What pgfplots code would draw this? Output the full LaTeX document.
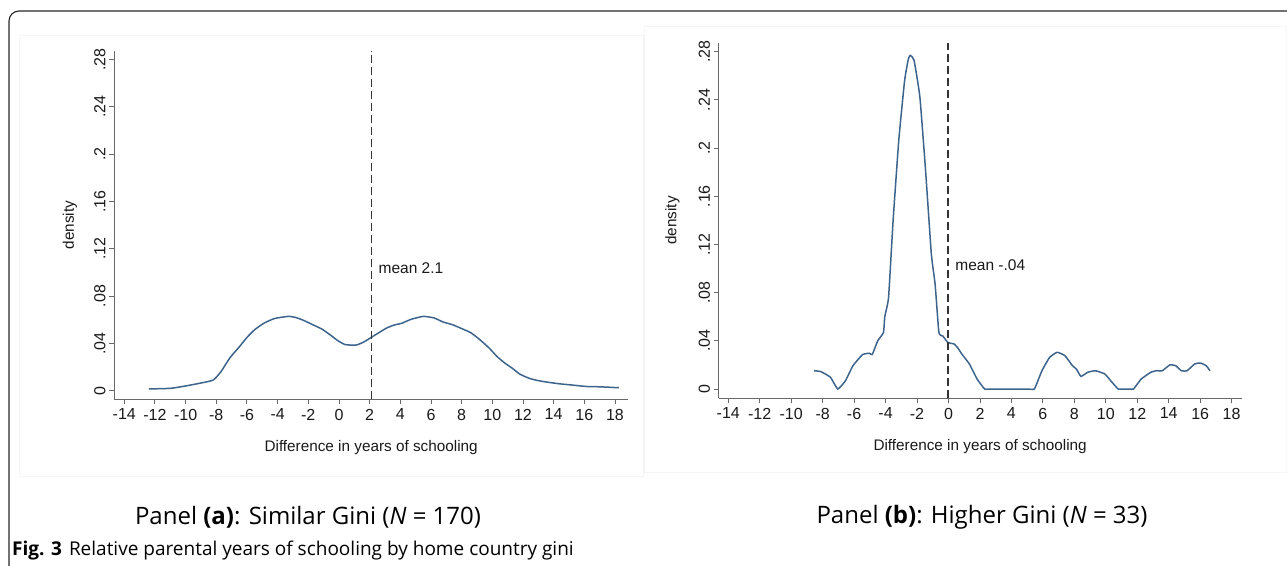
\documentclass[border=0pt]{standalone}
\usepackage{pgfplots}
\pgfplotsset{compat=1.18}
\usepackage{pgfplotstable}
\usepackage{fontspec}
\setmainfont{Liberation Sans}
\newfontfamily\capfont{Open Sans}
\definecolor{curve}{RGB}{60,100,140}
\definecolor{axisgray}{RGB}{105,105,105}
\definecolor{txt}{RGB}{25,25,25}

\pgfplotstableread{
x y
-12.4 0.0015
-11.0 0.002
-10.0 0.004
-9.0 0.0065
-8.2 0.009
-7.7 0.016
-7.1 0.028
-6.5 0.037
-6.0 0.045
-5.5 0.0515
-4.9 0.057
-4.2 0.061
-3.3 0.0628
-2.8 0.0618
-2.3 0.0594
-1.7 0.0557
-1.1 0.052
-0.5 0.0465
-0.1 0.0425
0.4 0.039
1.1 0.0385
1.6 0.041
2.1 0.0450
2.6 0.049
3.1 0.0529
3.6 0.0555
4.1 0.0570
4.7 0.0603
5.5 0.0628
6.2 0.0615
6.8 0.058
7.4 0.0558
8.0 0.0525
8.6 0.049
9.2 0.043
9.8 0.036
10.3 0.029
10.8 0.0235
11.3 0.019
11.8 0.014
12.4 0.0105
13.0 0.0085
13.7 0.007
14.4 0.0058
15.2 0.0048
16.1 0.0036
17.0 0.0033
18.25 0.0025
}\dataA

\pgfplotstableread{
x y
-8.54 0.0152
-8.1 0.0144
-7.5 0.0097
-7.04 0.0
-6.55 0.0069
-6.07 0.0194
-5.46 0.0286
-5.02 0.0297
-4.85 0.0286
-4.49 0.0402
-4.13 0.047
-4.05 0.060
-3.81 0.076
-3.52 0.140
-3.16 0.2065
-2.79 0.256
-2.55 0.274
-2.43 0.277
-2.19 0.273
-1.82 0.2426
-1.46 0.182
-1.09 0.112
-0.85 0.087
-0.61 0.047
-0.36 0.044
-0.07 0.039
0.12 0.038
0.36 0.0374
0.6 0.034
0.85 0.029
1.33 0.0208
1.82 0.0083
2.3 0.0
2.7 0.0
5.1 0.0
5.46 0.0
5.94 0.0152
6.43 0.0263
6.91 0.0305
7.4 0.0277
7.88 0.0194
8.13 0.0166
8.42 0.0105
8.85 0.0139
9.34 0.0152
9.94 0.0125
10.31 0.0069
10.79 0.0
11.1 0.0
11.5 0.0
11.76 0.0
12.25 0.0083
12.86 0.0139
13.22 0.0152
13.59 0.0152
14.07 0.0200
14.44 0.0194
14.8 0.0152
15.17 0.0152
15.65 0.0208
16.01 0.0216
16.38 0.0194
16.62 0.0152
}\dataB

\pgfplotsset{stataax/.style={
  scale only axis, anchor=south west,
  axis x line*=bottom, axis y line*=left,
  axis line style={axisgray, line width=0.9pt, -},
  tick align=outside, major tick length=5pt,
  tick style={axisgray, line width=0.9pt},
  xtick={-14,-12,-10,-8,-6,-4,-2,0,2,4,6,8,10,12,14,16,18},
  xticklabels={-14,-12,-10,-8,-6,-4,-2,0,2,4,6,8,10,12,14,16,18},
  ytick={0,0.04,0.08,0.12,0.16,0.2,0.24,0.28},
  yticklabels={0,.04,.08,.12,.16,.2,.24,.28},
  ticklabel style={font=\fontsize{16}{16}\selectfont, text=txt},
  xticklabel style={yshift=-1pt},
  yticklabel style={rotate=90, anchor=south},
  label style={font=\fontsize{15.3}{15.3}\selectfont, text=txt},
  xlabel={Difference in years of schooling},
  ylabel={density},
  xlabel style={at={(axis description cs:0.5,0)}, anchor=center, yshift=-48pt},
  clip=false,
}}

\begin{document}
\begin{tikzpicture}
\useasboundingbox (0pt,0pt) rectangle (1287pt,-565pt);
% faint graph regions
\draw[black!4, line width=0.6pt] (19pt,-35pt) rectangle (643pt,-476pt);
\draw[black!4, line width=0.6pt] (644pt,-26pt) rectangle (1286pt,-472pt);
% figure border
\draw[black!85, line width=1.1pt, rounded corners=10pt] (9pt,-570pt) -- (9pt,-11pt) -- (1295pt,-11pt);

% Panel (a)
\begin{axis}[stataax,
  at={(114pt,-399.3pt)}, width=514.3pt, height=348.6pt,
  xmin=-14.67, xmax=18.87, ymin=-0.00727, ymax=0.2873,
  ylabel style={at={(axis description cs:-0.0856,0.5)}, anchor=center},
]
\addplot[curve, line width=1.5pt, smooth, tension=0.3] table[x=x,y=y] {\dataA};
\addplot[black!80, line width=1.3pt, dash pattern=on 8pt off 4pt] coordinates {(2.1,-0.00727) (2.1,0.2873)};
\node[anchor=west, font=\fontsize{15.5}{15.5}\selectfont, text=txt] at (axis cs:2.1,0.1037) {\hspace{4pt}mean 2.1};
\end{axis}

% Panel (b)
\begin{axis}[stataax,
  at={(718.5pt,-398.3pt)}, width=523.2pt, height=355.6pt,
  xmin=-14.62, xmax=18.64, ymin=-0.0077, ymax=0.2875,
  ylabel style={at={(axis description cs:-0.0879,0.5)}, anchor=center},
]
\addplot[curve, line width=1.5pt, smooth, tension=0.25] table[x=x,y=y] {\dataB};
\addplot[black!80, line width=1.3pt, dash pattern=on 8pt off 4pt] coordinates {(-0.04,-0.0077) (-0.04,0.2875)};
\node[anchor=west, font=\fontsize{15.5}{15.5}\selectfont, text=txt] at (axis cs:-0.04,0.103) {\hspace{4pt}mean -.04};
\end{axis}

% captions
\node[font=\capfont\fontsize{24}{24}\selectfont] at (308pt,-517pt) {Panel \textbf{(a)}: Similar Gini (\textit{N} = 170)};
\node[font=\capfont\fontsize{24}{24}\selectfont] at (982pt,-517pt) {Panel \textbf{(b)}: Higher Gini (\textit{N} = 33)};
\node[anchor=west, font=\capfont\fontsize{19}{19}\selectfont, inner sep=0pt] at (12pt,-551pt) {\textbf{Fig. 3}\hspace{7pt}Relative parental years of schooling by home country gini};
\end{tikzpicture}
\end{document}
